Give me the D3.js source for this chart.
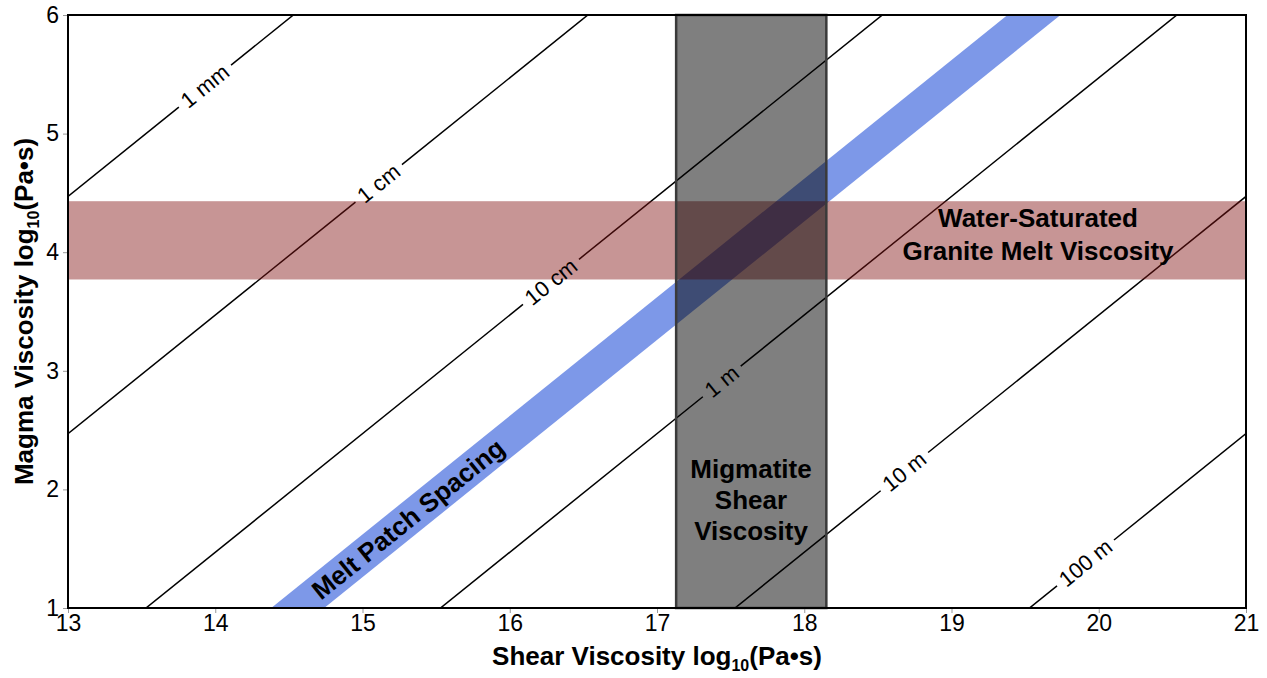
<!DOCTYPE html>
<html>
<head>
<meta charset="utf-8">
<script src="https://cdn.jsdelivr.net/npm/d3@7"></script>
<style>
  body { margin: 0; background: #fff; }
  svg { font-family: "Liberation Sans", Arial, sans-serif; }
</style>
</head>
<body>
<script>
// axis ticks
var xTicks = [13, 14, 15, 16, 17, 18, 19, 20, 21];
var yTicks = [1, 2, 3, 4, 5, 6];

// spacing contours: magma = shear - offset
var contourLabels = ["1 mm", "1 cm", "10 cm", "1 m", "10 m", "100 m"];
var contourOffsets = [8.53, 10.53, 12.53, 14.53, 16.53, 18.53];
var labelShear = [13.93, 15.11, 16.28, 17.44, 18.68, 19.91]; // where each label sits

// shaded ranges
var meltBand = [13.38, 13.74];      // offsets of melt patch spacing band
var graniteBand = [3.77, 4.43];     // magma viscosity range
var migmatiteBand = [17.13, 18.15]; // shear viscosity range

var W = 1267, H = 678;
var padL = 68, padR = 1246, padT = 15, padB = 608;

var x = d3.scaleLinear().domain([13, 21]).range([padL, padR]);
var y = d3.scaleLinear().domain([1, 6]).range([padB, padT]);

var svg = d3.select("body").append("svg")
  .attr("width", W)
  .attr("height", H);

svg.append("clipPath").attr("id", "plot")
  .append("rect")
  .attr("x", padL).attr("y", padT)
  .attr("width", padR - padL).attr("height", padB - padT);

var plot = svg.append("g").attr("clip-path", "url(#plot)");

var angle = Math.atan2(y(1) - y(2), x(14) - x(13)) * 180 / Math.PI;
var unitLen = Math.hypot(x(14) - x(13), y(1) - y(2)); // px per data unit along the line

var line = d3.line().x(function(d) { return x(d[0]); }).y(function(d) { return y(d[1]); });

// contour labels first, so we can measure them for the gaps
var labels = svg.append("g").selectAll("text")
  .data(contourLabels)
  .enter()
  .append("text")
  .attr("transform", function(d, i) {
    var sx = labelShear[i];
    return "translate(" + x(sx) + "," + y(sx - contourOffsets[i]) + ") rotate(" + (-angle) + ")";
  })
  .attr("text-anchor", "middle")
  .attr("dominant-baseline", "central")
  .attr("font-size", 22)
  .text(function(d) { return d; });

labels.each(function(d, i) {
  var w = this.getComputedTextLength();
  var half = (w / 2 + 6) / unitLen;
  var c = contourOffsets[i];
  var sx = labelShear[i];
  var segs = [
    [[13, 13 - c], [sx - half, sx - half - c]],
    [[sx + half, sx + half - c], [21, 21 - c]]
  ];
  segs.forEach(function(s) {
    plot.append("path")
      .attr("d", line(s))
      .attr("stroke", "#000")
      .attr("stroke-width", 1.5)
      .attr("fill", "none");
  });
});

// melt patch spacing band
plot.append("path")
  .attr("d", line([
    [13, 13 - meltBand[0]], [21, 21 - meltBand[0]],
    [21, 21 - meltBand[1]], [13, 13 - meltBand[1]]
  ]) + "Z")
  .attr("fill", "#7d98e8");

// granite melt band
plot.append("rect")
  .attr("x", padL)
  .attr("width", padR - padL)
  .attr("y", y(graniteBand[1]))
  .attr("height", y(graniteBand[0]) - y(graniteBand[1]))
  .attr("fill", "rgba(130,20,20,0.45)");

// migmatite band
svg.append("rect")
  .attr("x", x(migmatiteBand[0]))
  .attr("width", x(migmatiteBand[1]) - x(migmatiteBand[0]))
  .attr("y", padT)
  .attr("height", padB - padT)
  .attr("fill", "rgba(0,0,0,0.5)")
  .attr("stroke", "#3a3a3a")
  .attr("stroke-width", 2.5);

// axes
var xAxis = svg.append("g")
  .attr("transform", "translate(0," + padB + ")")
  .call(d3.axisBottom(x).tickValues(xTicks).tickFormat(d3.format("d")).tickSize(5).tickPadding(2));
var yAxis = svg.append("g")
  .attr("transform", "translate(" + padL + ",0)")
  .call(d3.axisLeft(y).tickValues(yTicks).tickFormat(d3.format("d")).tickSize(5).tickPadding(4));

[xAxis, yAxis].forEach(function(a) {
  a.select(".domain").remove();
  a.selectAll(".tick line").attr("stroke", "#999");
  a.selectAll(".tick text").attr("font-size", 23).attr("fill", "#000")
    .attr("font-family", "Liberation Sans, Arial, sans-serif");
});

// frame
svg.append("rect")
  .attr("x", padL).attr("y", padT)
  .attr("width", padR - padL).attr("height", padB - padT)
  .attr("fill", "none")
  .attr("stroke", "#000")
  .attr("stroke-width", 2);

// annotations
function addText(lines, cx, y0, dy) {
  var t = svg.append("text")
    .attr("font-size", 26)
    .attr("font-weight", "bold")
    .attr("text-anchor", "middle");
  lines.forEach(function(s, i) {
    t.append("tspan").attr("x", cx).attr("y", y0 + i * dy).text(s);
  });
}
addText(["Water-Saturated", "Granite Melt Viscosity"], 1038, 227, 33);
addText(["Migmatite", "Shear", "Viscosity"], 751, 478, 31);

var mx = 15.31, mc = (meltBand[0] + meltBand[1]) / 2;
svg.append("text")
  .attr("transform", "translate(" + x(mx) + "," + y(mx - mc) + ") rotate(" + (-angle) + ")")
  .attr("text-anchor", "middle")
  .attr("dominant-baseline", "central")
  .attr("font-size", 26)
  .attr("font-weight", "bold")
  .text("Melt Patch Spacing");

// axis titles
function title(g) {
  g.attr("font-size", 26).attr("font-weight", "bold").attr("text-anchor", "middle");
}
var xt = svg.append("text")
  .attr("x", (padL + padR) / 2)
  .attr("y", 665)
  .call(title);
xt.append("tspan").text("Shear Viscosity log");
xt.append("tspan").attr("font-size", 16).attr("dy", 6).text("10");
xt.append("tspan").attr("dy", -6).text("(Pa•s)");

var yt = svg.append("text")
  .attr("transform", "translate(33," + ((padT + padB) / 2) + ") rotate(-90)")
  .call(title);
yt.append("tspan").text("Magma Viscosity log");
yt.append("tspan").attr("font-size", 16).attr("dy", 6).text("10");
yt.append("tspan").attr("dy", -6).text("(Pa•s)");
</script>
</body>
</html>
